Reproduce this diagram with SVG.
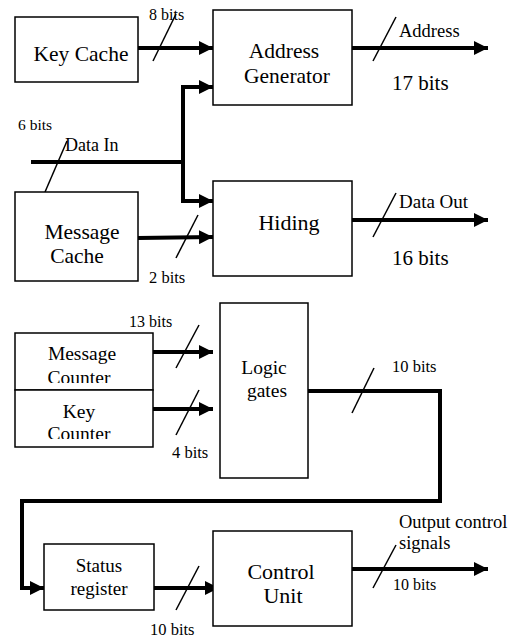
<svg xmlns="http://www.w3.org/2000/svg" width="515" height="639" viewBox="0 0 515 639">
<style>
.box{fill:#fff;stroke:#000;stroke-width:1.5}
.bus{fill:none;stroke:#000;stroke-width:4}
.sl{fill:none;stroke:#000;stroke-width:1.5}
</style>
<defs>
<marker id="ah" markerUnits="userSpaceOnUse" markerWidth="14" markerHeight="14" refX="14" refY="7" orient="auto" viewBox="0 0 14 14">
<path d="M0,0 L14,7 L0,14 Z" fill="#000"/>
</marker>
<clipPath id="cl1"><rect x="15" y="333" width="138" height="50"/></clipPath>
<clipPath id="cl2"><rect x="15" y="390" width="138" height="49"/></clipPath>
</defs>
<g font-family="Liberation Serif, serif" fill="#000">
<g id="connectors">
<path class="bus" d="M138 48 H213" marker-end="url(#ah)"/>
<path class="bus" d="M352 48 H488" marker-end="url(#ah)"/>
<path class="bus" d="M31 162 H183"/>
<path class="bus" d="M183 162 V87 H213" marker-end="url(#ah)"/>
<path class="bus" d="M183 162 V201 H213" marker-end="url(#ah)"/>
<path class="bus" d="M138 238 L213 237" marker-end="url(#ah)"/>
<path class="bus" d="M352 220 H488" marker-end="url(#ah)"/>
<path class="bus" d="M153 352 H213" marker-end="url(#ah)"/>
<path class="bus" d="M153 409 H213" marker-end="url(#ah)"/>
<path class="bus" d="M308 391 H440 V501 H22 V588 H44" marker-end="url(#ah)"/>
<path class="bus" d="M154 588 H219" marker-end="url(#ah)"/>
<path class="bus" d="M352 569 H488" marker-end="url(#ah)"/>
<path class="sl" d="M153 61 L176 14"/>
<path class="sl" d="M373 61 L396 17"/>
<path class="sl" d="M45 192 L67 141"/>
<path class="sl" d="M176 258 L198 215"/>
<path class="sl" d="M373 237 L396 193"/>
<path class="sl" d="M176 368 L199 325"/>
<path class="sl" d="M176 435 L199 390"/>
<path class="sl" d="M352 413 L374 368"/>
<path class="sl" d="M176 610 L199 566"/>
<path class="sl" d="M373 588 L396 545"/>
<text x="149" y="20" font-size="16">8 bits</text>
<text x="399" y="37" font-size="18.5">Address</text>
<text x="392" y="90" font-size="21">17 bits</text>
<text x="18" y="130" font-size="15.5">6 bits</text>
<text x="65" y="151" font-size="18">Data In</text>
<text x="149" y="283" font-size="16.5">2 bits</text>
<text x="399" y="208" font-size="19">Data Out</text>
<text x="392" y="265" font-size="21">16 bits</text>
<text x="129" y="327" font-size="16">13 bits</text>
<text x="172" y="458" font-size="16.5">4 bits</text>
<text x="392" y="372" font-size="16.5">10 bits</text>
<text x="150" y="635" font-size="16.5">10 bits</text>
<text x="399" y="528" font-size="18.5">Output control</text>
<text x="399" y="549" font-size="18.5">signals</text>
<text x="393" y="590" font-size="16">10 bits</text>
</g>
<g id="key-cache">
<rect class="box" x="15" y="17" width="123" height="65"/>
<text x="81" y="61" font-size="21.5" text-anchor="middle">Key Cache</text>
</g>
<g id="address-generator">
<rect class="box" x="213" y="10" width="139" height="95"/>
<text x="284" y="58" font-size="21.5" text-anchor="middle">Address</text>
<text x="287" y="83" font-size="21.5" text-anchor="middle">Generator</text>
</g>
<g id="message-cache">
<rect class="box" x="15" y="192" width="123" height="89"/>
<text x="82" y="239" font-size="21.5" text-anchor="middle">Message</text>
<text x="77" y="263" font-size="21.5" text-anchor="middle">Cache</text>
</g>
<g id="hiding">
<rect class="box" x="213" y="181" width="139" height="95"/>
<text x="289" y="230" font-size="22" text-anchor="middle">Hiding</text>
</g>
<g id="message-counter">
<rect class="box" x="15" y="333" width="138" height="57"/>
<text x="82" y="360" font-size="19.5" text-anchor="middle">Message</text>
<text x="79" y="384" font-size="19.5" text-anchor="middle" clip-path="url(#cl1)">Counter</text>
</g>
<g id="key-counter">
<rect class="box" x="15" y="390" width="138" height="57"/>
<text x="79" y="418" font-size="19.5" text-anchor="middle">Key</text>
<text x="79" y="440" font-size="19.5" text-anchor="middle" clip-path="url(#cl2)">Counter</text>
</g>
<g id="logic-gates">
<rect class="box" x="220" y="303" width="88" height="175"/>
<text x="264" y="374" font-size="19.5" text-anchor="middle">Logic</text>
<text x="267" y="397" font-size="19.5" text-anchor="middle">gates</text>
</g>
<g id="status-register">
<rect class="box" x="44" y="544" width="110" height="66"/>
<text x="99" y="572" font-size="19" text-anchor="middle">Status</text>
<text x="99" y="595" font-size="19" text-anchor="middle">register</text>
</g>
<g id="control-unit">
<rect class="box" x="213" y="531" width="139" height="95"/>
<text x="281" y="579" font-size="22" text-anchor="middle">Control</text>
<text x="283" y="603" font-size="22" text-anchor="middle">Unit</text>
</g>
</g>
</svg>
